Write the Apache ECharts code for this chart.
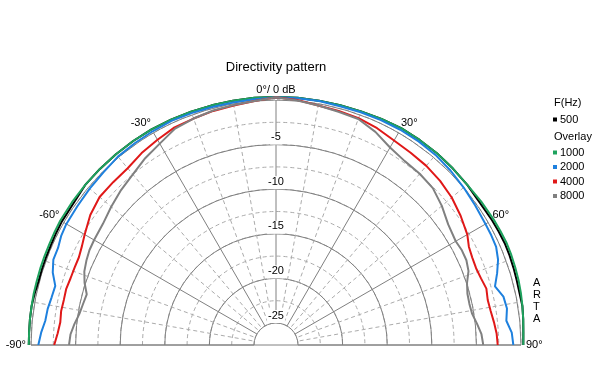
<!DOCTYPE html>
<html><head><meta charset="utf-8">
<script src="https://cdn.jsdelivr.net/npm/echarts@6/dist/echarts.min.js"></script>
<style>html,body{margin:0;padding:0;background:#fff}#c{width:604px;height:371px}</style>
</head><body><div id="c"></div>
<script>
const angles = [-90,-87,-84,-81,-78,-75,-72,-69,-66,-63,-60,-55,-50,-45,-40,-35,-30,-25,-20,-15,-10,-5,0,5,10,15,20,25,30,35,40,45,50,55,60,63,66,69,72,75,78,81,84,87,90];
const f500  = [0.25,0.25,0.27,0.28,0.2,0.1,0.12,0.13,0.15,0.2,0.25,0.25,0.45,0.45,0.45,0.45,0.45,0.4,0.38,0.35,0.35,0.35,0.35,0.35,0.35,0.35,0.4,0.5,0.6,0.6,0.6,0.55,0.5,0.4,0.5,0.55,0.6,0.58,0.53,0.48,0.45,0.5,0.4,0.3,0.26];
const f1000 = [0.25,0.25,0.27,0.28,0.3,0.3,0.32,0.33,0.35,0.4,0.45,0.45,0.45,0.45,0.45,0.45,0.45,0.4,0.38,0.35,0.35,0.35,0.35,0.35,0.35,0.35,0.4,0.5,0.6,0.6,0.6,0.55,0.5,0.6,0.7,0.75,0.8,0.78,0.73,0.68,0.6,0.5,0.4,0.3,0.26];
const f2000 = [-0.82,-1.1,-1.46,-1.55,-1.75,-1.85,-1.15,-0.73,-0.72,-0.45,-0.33,-0.3,-0.2,-0.1,0.1,0.15,0.2,0.25,0.2,0.15,0.15,0.2,0.3,0.3,0.3,0.25,0.3,0.35,0.4,0.4,0.35,0.2,0.0,-0.2,-0.35,-0.38,-0.45,-0.8,-1.4,-2.05,-1.4,-1.25,-1.5,-1.0,-0.86];
const f4000 = [-2.6,-2.95,-3.15,-3.08,-3.15,-3.12,-3.25,-3.28,-3.28,-3.05,-2.7,-2.05,-1.65,-1.65,-1.6,-1.2,-0.9,-0.55,-0.45,-0.3,-0.2,0.0,0.3,0.1,-0.2,-0.3,-0.4,-0.65,-1.0,-1.15,-1.25,-1.45,-1.75,-2.2,-2.7,-3.2,-3.38,-3.44,-3.3,-3.05,-3.2,-3.1,-2.9,-2.7,-2.61];
const f8000 = [-4.26,-4.4,-4.75,-5.15,-5.35,-5.5,-4.9,-4.45,-4.2,-4.0,-3.92,-3.78,-3.35,-2.9,-2.5,-1.9,-1.4,-0.7,-0.45,-0.25,-0.15,0.0,0.3,0.05,-0.2,-0.4,-0.5,-1.1,-1.9,-2.3,-2.4,-2.6,-3.2,-3.9,-4.2,-4.08,-4.1,-4.35,-4.95,-5.25,-5.3,-5.2,-4.8,-4.4,-4.23];
const seriesNames = ['500','1000','2000','4000','8000'];
const seriesColors = ['#000000','#1ea35e','#1e80de','#e01818','#808080'];
const dbMin = -25, dbMax = 0, dbStep = 5, dbMinorStep = 2.5, dbHeadroom = 1.5;
const angMin = -90, angMax = 90, angStep = 30;

const FONT = 'Arial, "Liberation Sans", sans-serif';
const allVals = [f500, f1000, f2000, f4000, f8000];
const center = [276, 345];
const rIn = 22, rOut = 245;
const pxPerDb = (rOut - rIn) / (dbMax - dbMin);
const rData = rOut + dbHeadroom * pxPerDb;
const gridSolid = '#808080', gridDash = '#ababab';

const halfAngle = (idx, extra) => Object.assign({polarIndex:idx, type:'value', min:angMin, max:angMax, interval:angStep,
  startAngle:180, endAngle:0, clockwise:true}, extra);

const chart = echarts.init(document.getElementById('c'), null, {renderer:'canvas'});
chart.setOption({
  animation: false,
  backgroundColor: '#fff',
  textStyle: {fontFamily: FONT},
  title: [
    {text:'Directivity pattern', left:276, top:61, textAlign:'center', padding:0, textStyle:{fontSize:13, fontWeight:'normal', color:'#000', fontFamily:FONT}},
    {text:'F(Hz)', left:554, top:97, padding:0, textStyle:{fontSize:11, fontWeight:'normal', color:'#000', fontFamily:FONT}},
    {text:'Overlay', left:554, top:131, padding:0, textStyle:{fontSize:11, fontWeight:'normal', color:'#000', fontFamily:FONT}},
    {text:'A\nR\nT\nA', left:533, top:277, padding:0, textStyle:{fontSize:11, lineHeight:12, fontWeight:'normal', color:'#000', fontFamily:FONT}}
  ],
  legend: [
    {data:[seriesNames[0]], orient:'vertical', left:553, top:114, padding:0, itemGap:3.5, itemWidth:4, itemHeight:4, icon:'rect',
     textStyle:{fontSize:11, color:'#000', fontFamily:FONT, padding:[0,0,0,-2]}},
    {data:seriesNames.slice(1), orient:'vertical', left:553, top:147, padding:0, itemGap:3.5, itemWidth:4, itemHeight:4, icon:'rect',
     textStyle:{fontSize:11, color:'#000', fontFamily:FONT, padding:[0,0,0,-2]}}
  ],
  polar: [
    {center: center, radius: [rIn, rOut]},
    {center: center, radius: [rIn, rOut]},
    {center: center, radius: [0, rOut]},
    {center: center, radius: [rIn, rOut]},
    {center: center, radius: [rIn, rData]}
  ],
  angleAxis: [
    halfAngle(0, {z:2, axisLine:{show:false}, axisTick:{show:false},
     axisLabel:{margin:5, fontSize:11, color:'#000', fontFamily:FONT, formatter: v => v === 0 ? '0°/ 0 dB' : v + '°'},
     splitLine:{show:true, lineStyle:{color:gridSolid, width:1}},
     minorTick:{show:false, splitNumber:3},
     minorSplitLine:{show:true, lineStyle:{color:gridDash, width:1, type:[4,3]}}}),
    {polarIndex:1, type:'value', min:0, max:360, startAngle:90, show:false},
    halfAngle(2, {interval:angMax-angMin, z:2, axisLine:{show:false}, axisTick:{show:false}, axisLabel:{show:false},
     splitLine:{show:true, lineStyle:{color:gridSolid, width:1}}}),
    halfAngle(3, {show:false}),
    halfAngle(4, {show:false})
  ],
  radiusAxis: [
    {polarIndex:0, type:'value', min:dbMin, max:dbMax, interval:dbStep, z:2,
     axisLine:{show:false}, axisTick:{show:false}, axisLabel:{show:false},
     splitLine:{show:true, lineStyle:{color:gridSolid, width:1}}},
    {polarIndex:1, type:'value', min:dbMin, max:dbMax, interval:dbStep, z:5,
     axisLine:{show:false}, axisTick:{show:false}, splitLine:{show:false},
     axisLabel:{show:true, margin:0, align:'center', verticalAlign:'bottom', fontSize:11, color:'#000', fontFamily:FONT,
       backgroundColor:'#fff', padding:[0,1,2,1], formatter: v => v === 0 ? '' : String(v)}},
    {polarIndex:2, type:'value', min:dbMin, max:dbMax, show:false},
    {polarIndex:3, type:'value', min:dbMin, max:dbMax, interval:dbMinorStep, z:1,
     axisLine:{show:false}, axisTick:{show:false}, axisLabel:{show:false},
     splitLine:{show:true, lineStyle:{color:gridDash, width:1, type:[4,3]}}},
    {polarIndex:4, type:'value', min:dbMin, max:dbMax + dbHeadroom, show:false}
  ],
  series: seriesNames.map((name, k) => ({
    name: name, type:'line', coordinateSystem:'polar', polarIndex:4,
    showSymbol:false, symbol:'none', clip:false, z:10 + k,
    lineStyle:{color:seriesColors[k], width:2},
    itemStyle:{color:seriesColors[k]},
    data: angles.map((a, i) => [allVals[k][i], a])
  }))
});
</script></body></html>
